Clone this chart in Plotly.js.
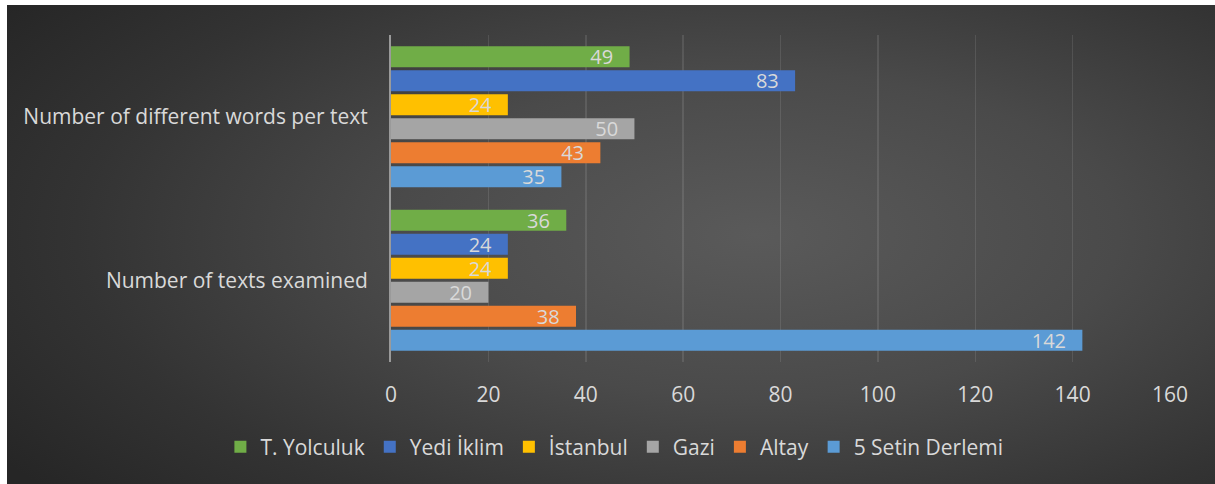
<!DOCTYPE html>
<html>
<head>
<meta charset="utf-8">
<script src="https://cdn.plot.ly/plotly-3.0.1.min.js"></script>
<style>
  html, body { margin: 0; padding: 0; background: #ffffff; width: 1215px; height: 484px; overflow: hidden; }
  #chart {
    position: absolute; left: 7px; top: 5px; width: 1208px; height: 479px;
    background: radial-gradient(ellipse 75% 85% at 62% 48%, #5a5a5a 0%, #4a4a4a 40%, #333333 75%, #262626 100%);
  }
</style>
</head>
<body>
<div id="chart"></div>
<script>
// Categories (bottom to top on the axis)
const categories = ["Number of texts examined", "Number of different words per text"];

// Series (listed bottom-to-top inside each group)
const seriesNames = ["5 Setin Derlemi", "Altay", "Gazi", "İstanbul", "Yedi İklim", "T. Yolculuk"];
const setin = [142, 35];
const altay = [38, 43];
const gazi = [20, 50];
const istanbul = [24, 24];
const yediIklim = [24, 83];
const tYolculuk = [36, 49];
const seriesValues = [setin, altay, gazi, istanbul, yediIklim, tYolculuk];
const seriesColors = ["#5B9BD5", "#ED7D31", "#A5A5A5", "#FFC000", "#4472C4", "#70AD47"];

const xTicks = [0, 20, 40, 60, 80, 100, 120, 140, 160];

const FONT = "Open Sans, Noto Sans, sans-serif";
const FS = 21;

const traces = seriesNames.map((name, i) => ({
  type: "bar",
  orientation: "h",
  name: name,
  y: categories,
  x: seriesValues[i],
  marker: { color: seriesColors[i], line: { width: 0 } },
  text: seriesValues[i].map(v => String(v) + "\u2002\u2009"),
  textposition: "inside",
  insidetextanchor: "end",
  constraintext: "none",
  textangle: 0,
  insidetextfont: { color: "#d9d9d9", size: 20, family: FONT },
  cliponaxis: false,
  hoverinfo: "x+name"
}));

const layout = {
  width: 1208,
  height: 479,
  paper_bgcolor: "rgba(0,0,0,0)",
  plot_bgcolor: "rgba(0,0,0,0)",
  barmode: "group",
  bargap: 0.12,
  bargroupgap: 0.125,
  margin: { l: 384, r: 45, t: 30, b: 122, autoexpand: false },
  font: { family: FONT, color: "#d9d9d9", size: FS },
  showlegend: true,
  legend: {
    orientation: "h",
    traceorder: "reversed",
    x: -0.219, xanchor: "left",
    y: -0.26, yanchor: "middle",
    font: { size: FS, color: "#d9d9d9", family: FONT },
    itemwidth: 30,
    itemsizing: "constant",
    bgcolor: "rgba(0,0,0,0)"
  },
  xaxis: {
    range: [0, 160],
    tickvals: xTicks,
    ticktext: xTicks.map(String),
    showgrid: true,
    gridcolor: "rgba(255,255,255,0.1)",
    gridwidth: 1.5,
    zeroline: false,
    showline: false,
    ticks: "",
    tickfont: { size: FS, color: "#d9d9d9", family: FONT },
    ticklabelstandoff: 18,
    fixedrange: true
  },
  yaxis: {
    type: "category",
    categoryorder: "array",
    categoryarray: categories,
    showgrid: false,
    zeroline: false,
    showline: true,
    linecolor: "#9a9a9a",
    linewidth: 2,
    ticks: "",
    ticklabelstandoff: 17,
    tickfont: { size: FS, color: "#d9d9d9", family: FONT },
    fixedrange: true
  }
};

Plotly.newPlot("chart", traces, layout, { displayModeBar: false, staticPlot: true });
</script>
</body>
</html>
